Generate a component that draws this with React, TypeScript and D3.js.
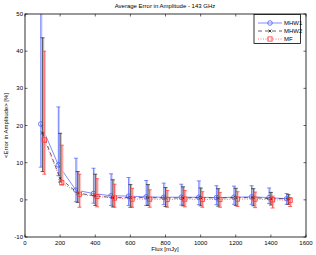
import React from 'react';
import * as d3 from 'd3';

const flux = [100, 200, 300, 400, 500, 600, 700, 800, 900, 1000, 1100, 1200, 1300, 1400, 1500];

const mhw1 = [20.4, 9.4, 2.6, 1.7, 1.1, 1.0, 0.8, 0.7, 0.7, 0.7, 0.6, 0.7, 0.8, 0.6, 0.3];
const mhw1Lo = [8.8, 6.5, -0.5, -0.9, -1.5, -1.5, -1.5, -1.3, -1.4, -1.3, -1.3, -1.2, -1.2, -1.0, -1.2];
const mhw1Hi = [52, 25.0, 11.2, 8.5, 7.0, 6.0, 5.2, 4.5, 4.2, 5.1, 3.8, 3.7, 3.8, 3.2, 1.7];

const mhw2 = [18.0, 5.8, 1.8, 1.1, 0.6, 0.6, 0.6, 0.5, 0.5, 0.6, 0.5, 0.6, 0.6, 0.3, 0.3];
const mhw2Lo = [7.6, 4.8, -0.7, -1.5, -1.9, -2.0, -1.5, -1.8, -1.6, -1.6, -1.7, -1.5, -1.6, -1.4, -1.2];
const mhw2Hi = [43.6, 17.9, 7.6, 6.9, 5.4, 4.1, 4.1, 3.3, 3.5, 3.2, 3.0, 3.1, 3.0, 2.0, 1.4];

const mf = [16.1, 4.6, 1.5, 0.9, 0.5, 0.2, 0.2, 0.1, 0.2, 0.1, 0.1, 0.2, 0.2, 0.0, -0.1];
const mfLo = [6.9, 4.0, -2.0, -1.9, -2.0, -2.0, -2.0, -2.0, -1.9, -2.0, -2.0, -1.8, -2.1, -2.2, -1.8];
const mfHi = [40.0, 14.7, 6.9, 5.7, 4.2, 3.1, 2.7, 2.5, 2.5, 2.2, 2.0, 2.2, 2.1, 1.0, 0.6];

const xTicks = [0, 200, 400, 600, 800, 1000, 1200, 1400, 1600];
const yTicks = [-10, 0, 10, 20, 30, 40, 50];

const series = [
  { name: 'MHW1', values: mhw1, lo: mhw1Lo, hi: mhw1Hi, color: '#4a5cff', shadow: '#c8ceff', dash: '', marker: 'circle', dx: -1.8 },
  { name: 'MHW2', values: mhw2, lo: mhw2Lo, hi: mhw2Hi, color: '#222', shadow: '#c4c4c4', dash: '4,3', marker: 'x', dx: 0 },
  { name: 'MF', values: mf, lo: mfLo, hi: mfHi, color: '#ff3030', shadow: '#ffc4c4', dash: '1,1.5', marker: 'square', dx: 1.7 },
];

const L = 25, R = 306, T = 14, B = 237;
const font = 'Helvetica, Arial, "Liberation Sans", sans-serif';

function Marker({ type, x, y, color }: { type: string; x: number; y: number; color: string }) {
  if (type === 'circle') return <circle cx={x} cy={y} r={2.3} fill="none" stroke={color} strokeWidth={0.8} />;
  if (type === 'square') return <rect x={x - 2.1} y={y - 2.1} width={4.2} height={4.2} fill="none" stroke={color} strokeWidth={0.8} />;
  return (
    <g stroke={color} strokeWidth={0.9}>
      <line x1={x - 1.4} y1={y - 1.4} x2={x + 1.4} y2={y + 1.4} />
      <line x1={x - 1.4} y1={y + 1.4} x2={x + 1.4} y2={y - 1.4} />
    </g>
  );
}

export default function App() {
  const x = d3.scaleLinear().domain([0, 1600]).range([L, R]);
  const y = d3.scaleLinear().domain([-10, 50]).range([B, T]);
  const cap = 2;

  return (
    <svg width={316} height={255} style={{ position: 'absolute', left: 0, top: 0, background: '#fff' }} fontFamily={font}>
      <defs>
        <clipPath id="plot"><rect x={L} y={T} width={R - L} height={B - T} /></clipPath>
      </defs>
      <rect x={L} y={T} width={R - L} height={B - T} fill="#fff" />
      <g clipPath="url(#plot)">
        {series.map(s => {
          const px = (i: number) => x(flux[i]) + s.dx;
          return (
            <g key={s.name}>
              {s.values.map((v, i) => (
                <g key={i}>
                  <line x1={px(i) + 0.8} x2={px(i) + 0.8} y1={y(s.lo[i])} y2={y(s.hi[i])} stroke={s.shadow} strokeWidth={1.8} />
                  <line x1={px(i)} x2={px(i)} y1={y(s.lo[i])} y2={y(s.hi[i])} stroke={s.color} strokeWidth={0.7} />
                  <line x1={px(i) - cap} x2={px(i) + cap} y1={y(s.lo[i])} y2={y(s.lo[i])} stroke={s.color} strokeWidth={0.7} />
                  <line x1={px(i) - cap} x2={px(i) + cap} y1={y(s.hi[i])} y2={y(s.hi[i])} stroke={s.color} strokeWidth={0.7} />
                </g>
              ))}
              <path d={d3.line<number>().x((d, i) => px(i)).y(d => y(d))(s.values) || ''} fill="none" stroke={s.color} strokeWidth={0.7} strokeDasharray={s.dash} />
              {s.values.map((v, i) => <Marker key={i} type={s.marker} x={px(i)} y={y(v)} color={s.color} />)}
            </g>
          );
        })}
      </g>
      <rect x={L} y={T} width={R - L} height={B - T} fill="none" stroke="#000" strokeWidth={0.8} />
      {xTicks.map(t => (
        <g key={t}>
          <line x1={x(t)} x2={x(t)} y1={B} y2={B - 2.5} stroke="#000" strokeWidth={0.6} />
          <line x1={x(t)} x2={x(t)} y1={T} y2={T + 2.5} stroke="#000" strokeWidth={0.6} />
          <text x={x(t)} y={B + 8} fontSize={6} textAnchor="middle">{t}</text>
        </g>
      ))}
      {yTicks.map(t => (
        <g key={t}>
          <line x1={L} x2={L + 2.5} y1={y(t)} y2={y(t)} stroke="#000" strokeWidth={0.6} />
          <line x1={R} x2={R - 2.5} y1={y(t)} y2={y(t)} stroke="#000" strokeWidth={0.6} />
          <text x={L - 2} y={y(t) + 2} fontSize={6} textAnchor="end">{t}</text>
        </g>
      ))}
      <text x={165} y={8} fontSize={6} textAnchor="middle">Average Error in Amplitude - 143 GHz</text>
      <text x={165} y={251} fontSize={6} textAnchor="middle">Flux [mJy]</text>
      <text transform={`translate(8,${(T + B) / 2}) rotate(-90)`} fontSize={6} textAnchor="middle">&lt;Error in Amplitude&gt; [%]</text>
      <g>
        <rect x={254} y={14.5} width={46.5} height={29} fill="#fff" stroke="#000" strokeWidth={0.8} />
        {series.map((s, i) => {
          const ly = 23 + i * 8;
          return (
            <g key={s.name}>
              <line x1={258} x2={282} y1={ly} y2={ly} stroke={s.color} strokeWidth={0.7} strokeDasharray={s.dash} />
              <Marker type={s.marker} x={270} y={ly} color={s.color} />
              <text x={284} y={ly + 2} fontSize={6}>{s.name}</text>
            </g>
          );
        })}
      </g>
    </svg>
  );
}
